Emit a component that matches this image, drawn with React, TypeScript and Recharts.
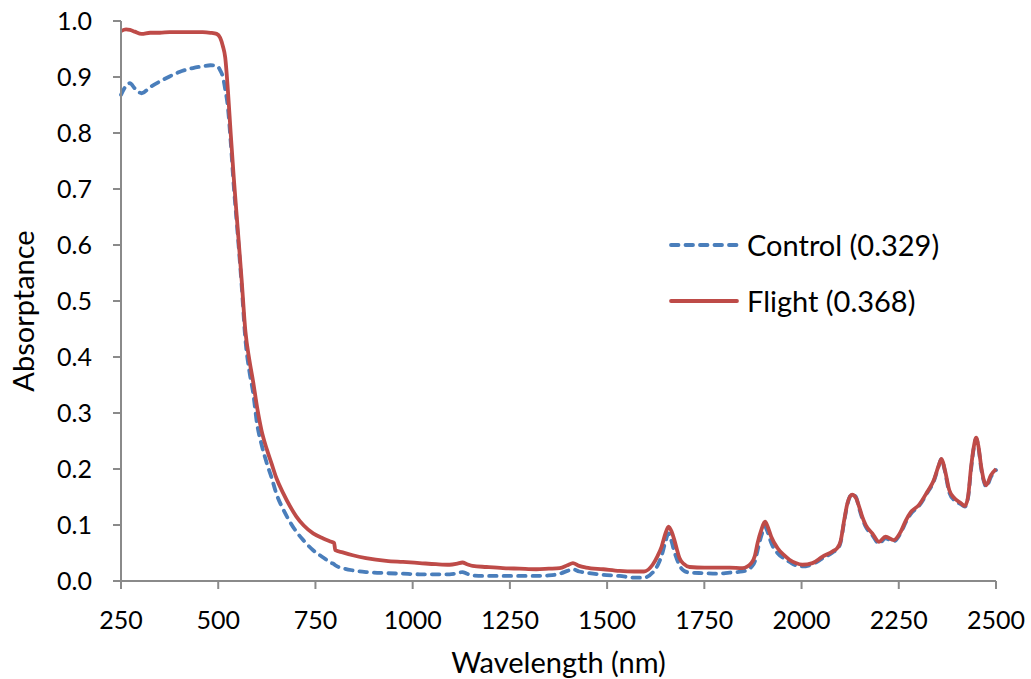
import React from "react";
import { LineChart, Line, XAxis, YAxis } from "recharts";

// Spectral samples (nm) shared by both series
const wavelengths = [
  250, 263, 273, 285, 303, 325, 350, 375, 400, 435, 460, 480, 496, 505, 512,
  518, 525, 532, 540, 550, 560, 570, 580, 590, 600, 611, 625, 637, 650, 667,
  685, 701, 720, 744, 770, 791, 798, 801, 820, 846, 880, 932, 975, 1018, 1060,
  1095, 1115, 1128, 1140, 1154, 1190, 1232, 1275, 1318, 1350, 1378, 1398, 1412,
  1428, 1446, 1490, 1532, 1570, 1595, 1617, 1630, 1640, 1650, 1658, 1666, 1673,
  1680, 1686, 1698, 1712, 1750, 1781, 1815, 1848, 1871, 1880, 1887, 1897, 1906,
  1914, 1922, 1938, 1955, 1969, 1985, 2002, 2028, 2053, 2080, 2092, 2100, 2110,
  2118, 2130, 2140, 2148, 2156, 2165, 2182, 2199, 2216, 2237, 2255, 2268, 2281,
  2302, 2323, 2340, 2352, 2360, 2368, 2380, 2393, 2410, 2420, 2428, 2436, 2443,
  2449, 2455, 2462, 2470, 2475, 2487, 2500,
];

const controlAbs = [
  0.868, 0.884, 0.889, 0.88, 0.871, 0.882, 0.892, 0.901, 0.909, 0.916, 0.919,
  0.921, 0.92, 0.912, 0.9, 0.878, 0.845, 0.785, 0.705, 0.62, 0.53, 0.43, 0.375,
  0.335, 0.28, 0.245, 0.21, 0.185, 0.155, 0.128, 0.105, 0.088, 0.072, 0.055,
  0.042, 0.032, 0.03, 0.028, 0.023, 0.019, 0.016, 0.014, 0.013, 0.012, 0.012,
  0.012, 0.014, 0.016, 0.013, 0.01, 0.009, 0.009, 0.009, 0.009, 0.01, 0.013,
  0.018, 0.021, 0.017, 0.015, 0.011, 0.009, 0.006, 0.006, 0.015, 0.028, 0.045,
  0.07, 0.085, 0.07, 0.052, 0.038, 0.028, 0.018, 0.015, 0.014, 0.013, 0.015,
  0.017, 0.025, 0.035, 0.055, 0.082, 0.097, 0.085, 0.068, 0.05, 0.04, 0.034,
  0.028, 0.026, 0.03, 0.04, 0.051, 0.057, 0.068, 0.108, 0.137, 0.155, 0.15,
  0.13, 0.112, 0.097, 0.082, 0.067, 0.076, 0.071, 0.086, 0.105, 0.12, 0.134,
  0.157, 0.178, 0.204, 0.218, 0.198, 0.158, 0.144, 0.137, 0.133, 0.148, 0.2,
  0.238, 0.254, 0.238, 0.2, 0.175, 0.168, 0.186, 0.198,
];

const flightAbs = [
  0.982, 0.985, 0.984, 0.981, 0.977, 0.979, 0.979, 0.98, 0.98, 0.98, 0.98,
  0.979, 0.977, 0.97, 0.955, 0.935, 0.875, 0.8, 0.72, 0.63, 0.54, 0.445, 0.395,
  0.355, 0.31, 0.27, 0.235, 0.21, 0.183, 0.157, 0.133, 0.115, 0.099, 0.085,
  0.076, 0.07, 0.068, 0.055, 0.051, 0.046, 0.041, 0.036, 0.034, 0.032, 0.03,
  0.029, 0.031, 0.033, 0.03, 0.027, 0.025, 0.023, 0.022, 0.021, 0.022, 0.023,
  0.028, 0.032, 0.027, 0.024, 0.021, 0.018, 0.017, 0.017, 0.029, 0.045, 0.061,
  0.085, 0.097, 0.088, 0.073, 0.055, 0.041, 0.03, 0.025, 0.024, 0.024, 0.024,
  0.023, 0.032, 0.045, 0.068, 0.092, 0.106, 0.095, 0.079, 0.059, 0.046, 0.038,
  0.032, 0.029, 0.032, 0.043, 0.053, 0.059, 0.07, 0.11, 0.139, 0.154, 0.148,
  0.133, 0.115, 0.1, 0.085, 0.07, 0.079, 0.073, 0.088, 0.108, 0.123, 0.136,
  0.159, 0.18, 0.205, 0.218, 0.2, 0.162, 0.148, 0.139, 0.134, 0.15, 0.204,
  0.24, 0.256, 0.24, 0.204, 0.177, 0.171, 0.189, 0.2,
];

const xTicks = [250, 500, 750, 1000, 1250, 1500, 1750, 2000, 2250, 2500];
const yTicks = [0, 0.1, 0.2, 0.3, 0.4, 0.5, 0.6, 0.7, 0.8, 0.9, 1.0];

const seriesNames = ["Control (0.329)", "Flight (0.368)"];

const BLUE = "#4a7ebb";
const RED = "#be4b48";
const AXIS = "#8a8a8a";
const FONT = "Lato, 'Open Sans', sans-serif";
const DASH = "7.5 7";
const LINE_W = 3.8;

const data = wavelengths.map((w, i) => ({
  wl: w,
  control: controlAbs[i],
  flight: flightAbs[i],
}));

// rotated y-axis title, placed by hand so it sits a little below centre
const YTitle = () => (
  <text
    x={34}
    y={311}
    transform="rotate(-90 34 311)"
    textAnchor="middle"
    fill="#000"
    fontSize={29}
    fontFamily={FONT}
  >
    Absorptance
  </text>
);

// legend drawn as an overlay inside the plot area
function SpectraLegend() {
  const rows = [
    { name: seriesNames[0], color: BLUE, dash: DASH, y: 245 },
    { name: seriesNames[1], color: RED, dash: undefined, y: 301 },
  ];
  return (
    <svg
      width={1031}
      height={679}
      style={{ position: "absolute", left: 0, top: 0, pointerEvents: "none" }}
    >
      {rows.map((r) => (
        <g key={r.name}>
          <line
            x1={671}
            y1={r.y}
            x2={737}
            y2={r.y}
            stroke={r.color}
            strokeWidth={LINE_W}
            strokeDasharray={r.dash}
            strokeLinecap="round"
          />
          <text
            x={747}
            y={r.y + 10.5}
            fill="#000"
            fontSize={29}
            fontFamily={FONT}
          >
            {r.name}
          </text>
        </g>
      ))}
    </svg>
  );
}

export default function App() {
  return (
    <div
      style={{
        position: "absolute",
        left: 0,
        top: 0,
        width: 1031,
        height: 679,
        background: "#fff",
      }}
    >
      <LineChart
        width={1031}
        height={679}
        data={data}
        margin={{ top: 21, right: 35, bottom: 0, left: 0 }}
      >
        <XAxis
          dataKey="wl"
          type="number"
          domain={[250, 2500]}
          ticks={xTicks}
          interval={0}
          height={98}
          stroke={AXIS}
          strokeWidth={2}
          tickSize={8}
          tickMargin={22}
          tick={{ fill: "#000", fontSize: 25, fontFamily: FONT }}
          label={{
            value: "Wavelength (nm)",
            position: "insideBottom",
            offset: 6,
            fill: "#000",
            fontSize: 29,
            fontFamily: FONT,
          }}
        />
        <YAxis
          type="number"
          domain={[0, 1]}
          ticks={yTicks}
          interval={0}
          width={121}
          stroke={AXIS}
          strokeWidth={2}
          tickSize={8}
          tickMargin={21}
          tickFormatter={(v: number) => v.toFixed(1)}
          tick={{ fill: "#000", fontSize: 25, fontFamily: FONT }}
          label={<YTitle />}
        />
        <Line
          type="monotone"
          dataKey="control"
          stroke={BLUE}
          strokeWidth={LINE_W}
          strokeDasharray={DASH}
          strokeLinecap="round"
          dot={false}
          activeDot={false}
          isAnimationActive={false}
        />
        <Line
          type="monotone"
          dataKey="flight"
          stroke={RED}
          strokeWidth={LINE_W}
          dot={false}
          activeDot={false}
          isAnimationActive={false}
        />
      </LineChart>
      <SpectraLegend />
    </div>
  );
}
